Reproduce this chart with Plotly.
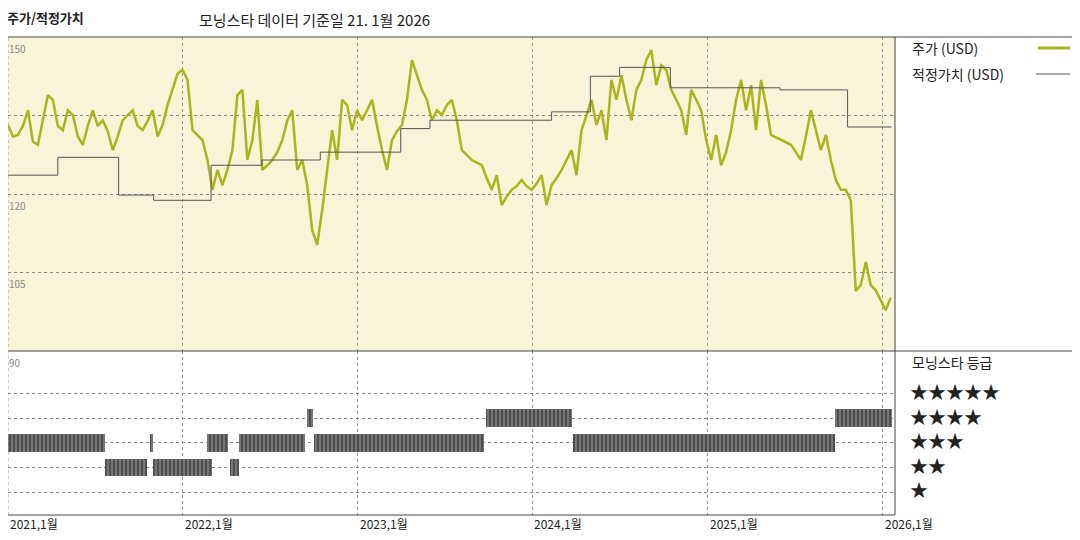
import plotly.graph_objects as go
import pandas as pd

# price, roughly every 10 days from 2021-01-01
price = [133.2, 131, 131.3, 133, 136.0, 130, 129.4, 134, 138.9, 138.0, 133, 132.2, 136, 135.1, 131, 129.4,
         133, 136.0, 133, 134.1, 132, 128.4, 131, 134.1, 135, 136.0, 133, 132.2, 134, 136.0, 131, 133.2,
         137, 139.9, 143, 143.7, 141.8, 132.2, 131.3, 130.3, 126.5, 120.8, 124.6, 121.7, 124.6, 128.4, 138.9,
         139.9, 126.5, 130.3, 138.0, 124.6, 125.5, 126.5, 128, 130.3, 134, 136.0, 124.6, 126.5, 121.7, 113.1,
         110.3, 116.9, 124.6, 132.2, 126.5, 138.0, 137.0, 132.2, 136.0, 134.1, 136, 138.0, 133, 128.4, 124.6,
         130.3, 132, 133.2, 138.0, 145.6, 142.7, 139.9, 138.0, 134.1, 136.0, 135.1, 137, 138.0, 134.1, 128.4,
         127.5, 126.5, 126, 125.5, 123, 120.8, 123.6, 117.9, 119.5, 120.8, 121.5, 122.7, 121.5, 120.8, 122,
         123.6, 117.9, 121.7, 123, 124.6, 126.5, 128.4, 123.6, 132.2, 135, 138.0, 133.2, 136.0, 130.3, 141.8,
         138.0, 142.7, 138, 134.1, 139.9, 141.8, 145.6, 147.5, 140.8, 144.6, 143.7, 139.9, 138, 136.0, 131.3,
         139.9, 138, 136.0, 130.3, 126.5, 131.3, 125.5, 128, 132.2, 138.0, 141.8, 136.0, 140.8, 132.2, 141.8,
         137.0, 131.3, 130.8, 130.3, 129.8, 129.4, 128, 126.5, 131, 136.0, 132.2, 128.4, 131.3, 126.5, 122.7,
         120.8, 120.8, 118.8, 101.5, 102.6, 107, 102.6, 101.6, 99.7, 97.8, 100.2]
price_dates = pd.date_range("2021-01-01", "2026-01-18", periods=len(price))

fv_dates = ["2021-01-01", "2021-04-15", "2021-08-20", "2021-11-01", "2022-03-01", "2022-06-15",
            "2022-10-15", "2023-04-01", "2023-06-01", "2024-02-10", "2024-05-01", "2024-07-01",
            "2024-10-15", "2025-06-01", "2025-10-20", "2026-01-20"]
fair_value = [123.6, 127.0, 119.8, 118.8, 125.5, 126.5, 128.0, 132.5, 134.1, 135.7, 142.5, 144.2,
              140.3, 139.9, 132.8, 132.8]

rating_start = ["2021-01-01", "2021-10-25", "2022-02-21", "2022-04-28", "2022-10-01", "2024-03-26",
                "2021-07-22", "2021-10-30", "2022-04-10",
                "2022-09-17", "2023-09-26", "2025-09-23"]
rating_end = ["2021-07-23", "2021-10-30", "2022-04-06", "2022-09-13", "2023-09-22", "2025-09-23",
              "2021-10-19", "2022-03-03", "2022-04-28",
              "2022-09-29", "2024-03-24", "2026-01-20"]
rating_stars = [3, 3, 3, 3, 3, 3, 2, 2, 2, 4, 4, 4]

year_ticks = ["2021-01-01", "2022-01-01", "2023-01-01", "2024-01-01", "2025-01-01", "2026-01-01"]
year_labels = ["2021,1월", "2022,1월", "2023,1월", "2024,1월", "2025,1월", "2026,1월"]

GREEN = "#aab41e"
fig = go.Figure()
fig.add_trace(go.Scatter(x=price_dates, y=price, mode="lines", line=dict(color=GREEN, width=2.5),
                         yaxis="y", showlegend=False))
fig.add_trace(go.Scatter(x=fv_dates, y=fair_value, mode="lines", line=dict(color="#555", width=1, shape="hv"),
                         yaxis="y", showlegend=False))

starts = pd.to_datetime(rating_start)
ends = pd.to_datetime(rating_end)
durs = [(e - s).total_seconds() * 1000 for s, e in zip(starts, ends)]
fig.add_trace(go.Bar(base=rating_start, x=durs, y=rating_stars, orientation="h", yaxis="y2", width=0.7,
                     marker=dict(color="#666", line_width=0,
                                 pattern=dict(shape="|", fgcolor="#111", bgcolor="#777", size=4, solidity=0.4)),
                     showlegend=False))

xr = ["2021-01-01", "2026-01-27"]
# page has an 8px body margin, so the figure is shifted by 8px
fig.update_layout(
    width=1080, height=540, margin=dict(l=0, r=193, t=29, b=33),
    paper_bgcolor="white", plot_bgcolor="white",
    font=dict(family="Noto Sans CJK KR", color="#222"),
    xaxis=dict(type="date", range=xr, showticklabels=False, ticks="", tickvals=year_ticks,
               showgrid=True, gridcolor="#999", griddash="dot", gridwidth=1, zeroline=False),
    yaxis=dict(domain=[0.343, 1], range=[90, 150], tickvals=[105, 120, 135], showticklabels=False,
               showgrid=True, gridcolor="#888", griddash="dot", zeroline=False),
    yaxis2=dict(domain=[0, 0.343], range=[0.1, 6.7], tickvals=[1, 2, 3, 4, 5], showticklabels=False,
                showgrid=True, gridcolor="#888", griddash="dot", zeroline=False),
    bargap=0,
)

def py(p):
    return (515 - p) / 478

def px(p):
    return (p - 8) / 887

shapes = [
    dict(type="rect", xref="paper", yref="paper", x0=0, x1=1, y0=py(351), y1=1,
         fillcolor="#f8f4d8", line_width=0, layer="below"),
    dict(type="line", xref="paper", yref="paper", x0=0, x1=px(1080), y0=1, y1=1, line=dict(color="#444", width=1)),
    dict(type="line", xref="paper", yref="paper", x0=0, x1=px(1080), y0=py(351), y1=py(351), line=dict(color="#444", width=1)),
    dict(type="line", xref="paper", yref="paper", x0=0, x1=1, y0=0, y1=0, line=dict(color="#444", width=1)),
    dict(type="line", xref="paper", yref="paper", x0=1, x1=1, y0=0, y1=1, line=dict(color="#444", width=1)),
    dict(type="line", xref="paper", yref="paper", x0=0, x1=0, y0=0, y1=1, line=dict(color="#999", width=1, dash="dot")),
    dict(type="line", xref="paper", yref="paper", x0=px(1038), x1=px(1070), y0=py(48), y1=py(48), line=dict(color=GREEN, width=3)),
    dict(type="line", xref="paper", yref="paper", x0=px(1036), x1=px(1070), y0=py(74), y1=py(74), line=dict(color="#555", width=1)),
]
fig.update_layout(shapes=shapes)

ann = [
    dict(text="<b>주가/적정가치</b>", x=px(5), y=py(17), size=13),
    dict(text="모닝스타 데이터 기준일 21. 1월 2026", x=px(197), y=py(20), size=15),
    dict(text="주가 (USD)", x=px(910), y=py(48), size=14),
    dict(text="적정가치 (USD)", x=px(910), y=py(74), size=14),
    dict(text="모닝스타 등급", x=px(910), y=py(362), size=14),
    dict(text="150", x=px(7), y=py(49), size=10, color="#888"),
    dict(text="120", x=px(7), y=py(205), size=10, color="#888"),
    dict(text="105", x=px(7), y=py(283), size=10, color="#888"),
    dict(text="90", x=px(7), y=py(362), size=10, color="#888"),
]
for i, s in enumerate([5, 4, 3, 2, 1]):
    ann.append(dict(text="★" * s, x=px(908), y=py(391 + 24.5 * i), size=18))
annotations = [dict(text=a["text"], x=a["x"], y=a["y"], xref="paper", yref="paper", xanchor="left",
                    yanchor="middle", showarrow=False,
                    font=dict(size=a["size"], color=a.get("color", "#222"))) for a in ann]
for d, lab in zip(year_ticks, year_labels):
    annotations.append(dict(text=lab, x=d, y=py(523), xref="x", yref="paper", xanchor="left", yanchor="middle",
                            showarrow=False, font=dict(size=12, color="#222")))
fig.update_layout(annotations=annotations)

fig.write_html("out.html")
